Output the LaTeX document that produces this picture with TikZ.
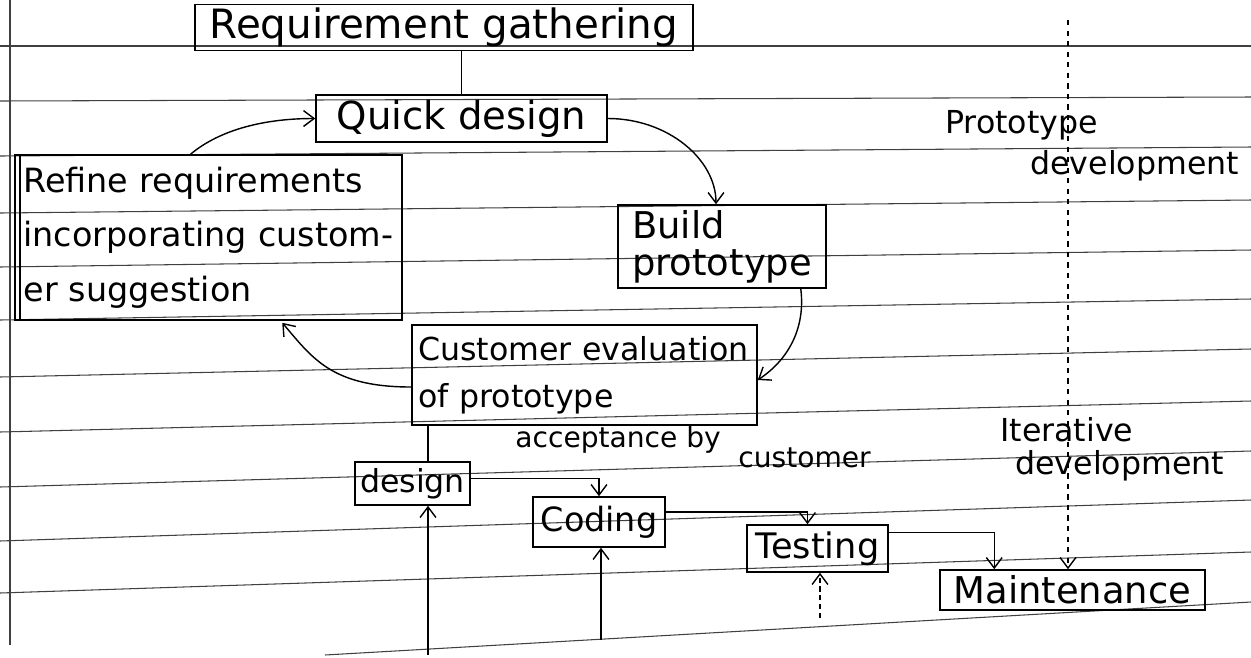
\documentclass[tikz,border=0pt]{standalone}
\usepackage{fontspec}
\setmainfont{DejaVu Sans}
\usepackage{tikz}
\usetikzlibrary{calc,arrows.meta}

\tikzset{
  phase/.style={draw, line width=0.9pt, inner sep=2pt, font=\fontsize{21}{25}\selectfont},
  note/.style={anchor=west, inner sep=0pt, font=\fontsize{18}{22}\selectfont},
  rule/.style={line width=0.6pt, black!75},
  link/.style={line width=0.8pt, -{Straight Barb[length=6pt,width=9pt]}},
}

\begin{document}
\begin{tikzpicture}[x=0.02cm,y=-0.02cm]
 \useasboundingbox (0,0) rectangle (1251,657);
 % ruled paper
    \foreach \yl/\yr in {46/46,101/97,156/147,213/200,267/250,320/299,377/349,432/401,487/451,541/500,593/552}
    \draw[rule] (0,\yl) -- (1251,\yr);
    \draw[rule] (325,655) -- (1251,602);
    \draw[rule] (10,0) -- (10,645);
 % boxes
    \node[phase, minimum width=9.96cm, minimum height=0.78cm, font=\fontsize{23}{27}\selectfont] (req) at (444,27.5) {Requirement gathering};
    \node[phase, minimum width=5.82cm, minimum height=0.94cm, font=\fontsize{22}{26}\selectfont] (quick) at (461.5,118.5) {Quick design};
    \node[phase, minimum width=7.74cm, minimum height=3.3cm, align=left, text width=7.4cm, font=\fontsize{19}{31}\selectfont] (refine) at (208.5,237.5) {Refine requirements\\incorporating custom-\\er suggestion};
    \draw[line width=0.9pt] ($(refine.north west)+(6,0)$) -- ($(refine.south west)+(6,0)$);
    \node[phase, minimum width=4.16cm, minimum height=1.66cm, align=left, font=\fontsize{21}{21}\selectfont] (build) at (722,246.5) {Build\\prototype};
    \node[phase, minimum width=6.9cm, minimum height=2cm, align=left, text width=6.65cm, font=\fontsize{18}{27}\selectfont] (eval) at (584.5,375) {Customer evaluation\\of prototype};
    \node[phase, minimum width=2.3cm, minimum height=0.86cm, font=\fontsize{18}{22}\selectfont] (design) at (412.5,483.5) {design};
    \node[phase, minimum width=2.64cm, minimum height=1cm, font=\fontsize{19}{23}\selectfont] (coding) at (599,522) {Coding};
    \node[phase, minimum width=2.82cm, minimum height=0.94cm, font=\fontsize{20}{24}\selectfont] (testing) at (817.5,548.5) {Testing};
    \node[phase, minimum width=5.3cm, minimum height=0.8cm] (maint) at (1072.5,590) {Maintenance};
 % labels
    \node[note, font=\fontsize{16}{20}\selectfont] (accept) at (515,440) {acceptance by};
    \node[note, font=\fontsize{16}{20}\selectfont] (cust) at (738,458) {customer};
    \node[note] (proto) at (945,125) {Prototype};
    \node[note] (protodev) at (1030,166) {development};
    \node[note] (iter) at (1000,430) {Iterative};
    \node[note] (iterdev) at (1015,466) {development};
 % prototype loop
    \draw[line width=0.8pt] (quick.north |- req.south) -- (quick.north);
    \draw[link] (quick.east) .. controls +(60,0) and +(0,-45) .. ($(build.north)+(-6,0)$);
    \draw[link] ($(build.south east)+(-26,0)$) .. controls +(5,40) and +(30,-20) .. ($(eval.east)+(0,5)$);
    \draw[link] ($(eval.west)+(0,12)$) .. controls +(-80,0) and +(30,35) .. ($(refine.south west)+(268,2)$);
    \draw[link] ($(refine.north)+(-18,0)$) .. controls +(30,-25) and +(-50,0) .. (quick.west);
 % iterative part
    \coordinate (dtop) at ($(design.north)+(15.5,0)$);
    \draw[line width=0.8pt] (dtop |- eval.south) -- (dtop);
    \draw[link] ($(design.east)+(0,-5)$) -| (coding.north);
    \draw[link] ($(coding.east)+(0,-10)$) -| ($(testing.north)+(-10,0)$);
    \draw[link] ($(testing.north east)+(0,8)$) -| ($(maint.north west)+(55,0)$);
    \coordinate (ptop) at (1068,20);
    \draw[link, dashed] (ptop) -- (ptop |- maint.north);
    \coordinate (fb1) at (428,655);
    \coordinate (fb2) at (601,640);
    \coordinate (fb3) at (820,618);
    \draw[link] (fb1) -- (fb1 |- design.south);
    \draw[link] (fb2) -- (fb2 |- coding.south);
    \draw[link, densely dashed] (fb3) -- (fb3 |- testing.south);
\end{tikzpicture}
\end{document}
